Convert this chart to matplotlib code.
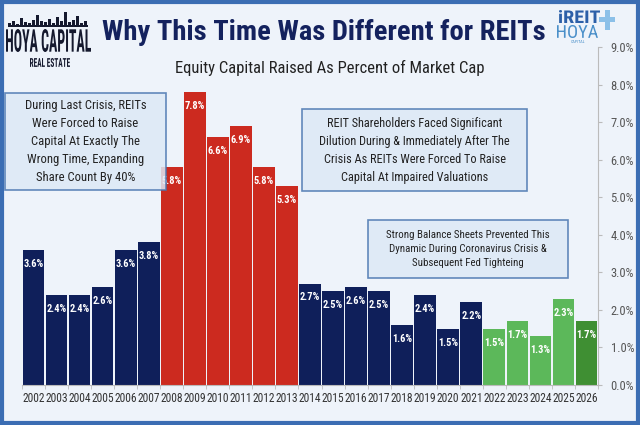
import matplotlib.pyplot as plt
from matplotlib.patches import Rectangle, PathPatch
from matplotlib.textpath import TextPath
from matplotlib.font_manager import FontProperties
from matplotlib.transforms import Affine2D, IdentityTransform
from matplotlib import font_manager
import numpy as np

# Data
years = [str(y) for y in range(2002, 2027)]
values = [3.6, 2.4, 2.4, 2.6, 3.6, 3.8, 5.8, 7.8, 6.6, 6.9, 5.8, 5.3,
          2.7, 2.5, 2.6, 2.5, 1.6, 2.4, 1.5, 2.2, 1.5, 1.7, 1.3, 2.3, 1.7]
periods = ["pre"] * 6 + ["crisis"] * 6 + ["post"] * 8 + ["fcst"] * 4 + ["last"]
y_ticks = [0, 1, 2, 3, 4, 5, 6, 7, 8, 9]

NAVY = "#0f1f5a"
RED = "#cc2a1f"
GREEN = "#5cb85a"
DKGREEN = "#3f8f33"
BG = "#eef3fa"
colors = {"pre": NAVY, "crisis": RED, "post": NAVY, "fcst": GREEN, "last": DKGREEN}

installed = {f.name for f in font_manager.fontManager.ttflist}
fams = [f for f in ["Roboto Condensed", "Liberation Sans Narrow", "Roboto", "DejaVu Sans"]
        if f in installed]
plt.rcParams["font.family"] = fams

W, H = 640, 425
fig = plt.figure(figsize=(6.4, 4.25), dpi=100, facecolor=BG)
ax = fig.add_axes([22 / W, 40 / H, 576 / W, 338 / H])
ax.set_facecolor(BG)

x = np.arange(len(years))
ax.bar(x, values, width=0.94, color=[colors[p] for p in periods],
       edgecolor="none", zorder=2)
for xi, v in zip(x, values):
    ax.text(xi, v - 0.37, f"{v:.1f}%", ha="center", va="center",
            color="white", fontsize=7.5, fontweight="bold", zorder=3)

ax.set_xlim(-0.5, len(years) - 0.5)
ax.set_ylim(0, 9)
ax.set_xticks(x)
ax.set_xticklabels(years, fontsize=8.3, color="#333333")
ax.set_xticks(np.arange(len(years) + 1) - 0.5, minor=True)
ax.yaxis.tick_right()
ax.set_yticks(y_ticks)
ax.set_yticklabels([f"{t:.1f}%" for t in y_ticks], fontsize=9, color="#555555")
for s in ["top", "left"]:
    ax.spines[s].set_visible(False)
ax.spines["right"].set_color("#bbbbbb")
ax.spines["bottom"].set_color("#bbbbbb")
ax.tick_params(axis="x", which="major", length=0, pad=5)
ax.tick_params(axis="x", which="minor", length=3, color="#bbbbbb")
ax.tick_params(axis="y", length=3, color="#bbbbbb", pad=6)


def px(x0, y0):
    # pixel (from top-left) -> figure fraction
    return x0 / W, 1 - y0 / H


def stretched_text(s, x0, x1, y0, y1, color, weight="bold"):
    # draw text filling a pixel box (top-left origin)
    tp = TextPath((0, 0), s, size=10, prop=FontProperties(family=fams, weight=weight))
    bb = tp.get_extents()
    sx = (x1 - x0) / bb.width
    sy = (y1 - y0) / bb.height
    tr = Affine2D().translate(-bb.x0, -bb.y0).scale(sx, sy).translate(x0, H - y1)
    fig.patches.append(PathPatch(tr.transform_path(tp), facecolor=color,
                                 edgecolor="none", transform=IdentityTransform()))


# Title and subtitle
fig.text(*px(324, 32), "Why This Time Was Different for REITs", ha="center",
         va="center", fontsize=20.5, fontweight="bold", color="#14225e")
fig.text(*px(330, 68), "Equity Capital Raised As Percent of Market Cap",
         ha="center", va="center", fontsize=12, color="#222222")

# Left logo
stretched_text("HOYA CAPITAL", 6, 91, 29, 52, "#15192e")
stretched_text("REAL ESTATE", 30, 70, 58, 67, "#15192e")
fig.patches.append(Rectangle(px(8, 27), 80 / W, 2 / H, transform=fig.transFigure,
                             facecolor="#15192e", edgecolor="none"))
sky_h = [4, 6, 3, 9, 5, 4, 7, 12, 6, 5, 8, 4, 10, 6, 15, 5, 7, 11, 4, 6]
for i, h in enumerate(sky_h):
    fig.patches.append(Rectangle(px(8 + i * 4, 27), 3 / W, h / H,
                                 transform=fig.transFigure,
                                 facecolor="#15192e", edgecolor="none"))

# Right logo
stretched_text("iREIT", 559, 600, 10, 23, "#2c5fa8")
stretched_text("HOYA", 557, 598, 25, 38, "#4a8fc9", weight="normal")
fig.text(*px(578, 42), "CAPITAL", ha="center", va="center", fontsize=3,
         color="#4a8fc9")
fig.patches.append(Rectangle(px(599, 22), 16 / W, 5 / H, transform=fig.transFigure,
                             facecolor="#8cc0e8", edgecolor="none"))
fig.patches.append(Rectangle(px(604.5, 30), 5 / W, 20 / H, transform=fig.transFigure,
                             facecolor="#8cc0e8", edgecolor="none"))

# Annotation boxes (pixel extents from the reference)
boxes = [
    ((5, 93, 166, 190), "During Last Crisis, REITs\nWere Forced to Raise\n"
     "Capital At Exactly The\nWrong Time, Expanding\nShare Count By 40%", 9.1, 1.5),
    ((302, 109, 527, 191), "REIT Shareholders Faced Significant\n"
     "Dilution During & Immediately After The\n"
     "Crisis As REITs Were Forced To Raise\nCapital At Impaired Valuations", 8.8, 1.5),
    ((368, 220, 568, 278), "Strong Balance Sheets Prevented This\n"
     "Dynamic During Coronavirus Crisis &\nSubsequent Fed Tighteing", 7.8, 1.5),
]
for (x0, y0, x1, y1), txt, fs, ls in boxes:
    fig.patches.append(Rectangle(px(x0, y1), (x1 - x0) / W, (y1 - y0) / H,
                                 transform=fig.transFigure, facecolor="#dde9f6",
                                 edgecolor="#4a76b0", linewidth=1.2, alpha=0.85,
                                 zorder=5))
    fig.text(*px((x0 + x1) / 2, (y0 + y1) / 2), txt, ha="center", va="center",
             fontsize=fs, color="#222222", linespacing=ls, zorder=6)

# Blue frame around the whole figure
fig.patches.append(Rectangle((0.003, 0.004), 0.994, 0.992, transform=fig.transFigure,
                             fill=False, edgecolor="#3b6db3", linewidth=3))

plt.savefig("out.png", dpi=100, facecolor=BG)
